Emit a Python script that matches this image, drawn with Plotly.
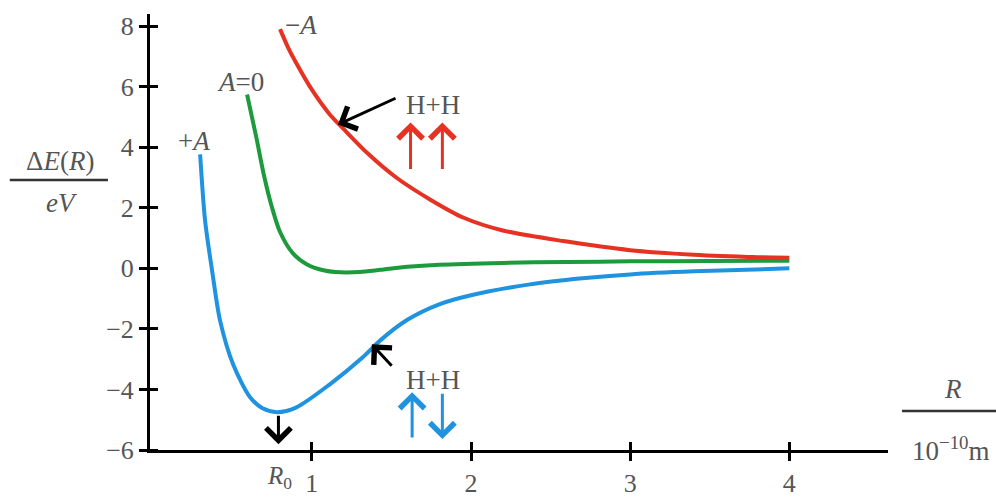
import plotly.graph_objects as go

# ---- data ----
blue_x = [0.298, 0.329, 0.373, 0.423, 0.505, 0.612, 0.69, 0.781, 0.90, 1.113, 1.32, 1.43,
          1.60, 1.80, 2.00, 2.37, 2.70, 3.00, 3.40, 4.00]
blue_y = [3.76, 1.58, -0.07, -1.72, -3.17, -4.26, -4.62, -4.75, -4.6, -3.83, -2.94, -2.38,
          -1.70, -1.19, -0.89, -0.53, -0.33, -0.20, -0.10, 0.0]

green_x = [0.593, 0.65, 0.70, 0.75, 0.80, 0.88, 0.97, 1.08, 1.18, 1.30, 1.43, 1.60,
           1.80, 2.20, 2.60, 3.00, 3.50, 4.00]
green_y = [5.74, 4.35, 3.05, 2.0, 1.2, 0.5, 0.13, -0.07, -0.13, -0.12, -0.05, 0.05,
           0.12, 0.18, 0.21, 0.23, 0.24, 0.25]

red_x = [0.80, 0.85, 0.90, 1.00, 1.11, 1.20, 1.35, 1.53, 1.75, 1.95, 2.20, 2.58, 3.00, 3.40, 3.80, 4.00]
red_y = [7.9, 7.3, 6.8, 5.9, 5.1, 4.6, 3.8, 3.0, 2.25, 1.68, 1.25, 0.9, 0.6, 0.45, 0.37, 0.35]

x_ticks = [1, 2, 3, 4]
x_tick_labels = ["1", "2", "3", "4"]
y_ticks = [-6, -4, -2, 0, 2, 4, 6, 8]
y_tick_labels = ["−6", "−4", "−2", "0", "2", "4", "6", "8"]

curve_labels = ["+<i>A</i>", "<i>A</i>=0", "−<i>A</i>"]
R0 = 0.79

RED = "#e63222"
GREEN = "#1c9a3c"
BLUE = "#1f93e0"
SERIF = "Liberation Serif"
TXT = "#555555"

fig = go.Figure()
for xs, ys, col in [(blue_x, blue_y, BLUE), (green_x, green_y, GREEN), (red_x, red_y, RED)]:
    fig.add_trace(go.Scatter(x=xs, y=ys, mode="lines", line=dict(color=col, width=4, shape="spline", smoothing=0.8),
                             showlegend=False, hoverinfo="skip"))

ann = []
# curve labels (data coords)
ann.append(dict(x=0.26, y=4.22, text=curve_labels[0], xref="x", yref="y"))
ann.append(dict(x=0.55, y=6.14, text=curve_labels[1], xref="x", yref="y"))
ann.append(dict(x=0.93, y=8.05, text=curve_labels[2], xref="x", yref="y"))
# H+H labels
ann.append(dict(x=1.76, y=5.41, text="H+H", xref="x", yref="y"))
ann.append(dict(x=1.76, y=-3.70, text="H+H", xref="x", yref="y"))
# labels outside plot area (paper coords)
ann.append(dict(x=0.176, y=-0.062, text="<i>R</i><sub>0</sub>", xref="paper", yref="paper", size=25))
ann.append(dict(x=-0.122, y=0.662, text="Δ<i>E</i>(<i>R</i>)", xref="paper", yref="paper"))
ann.append(dict(x=-0.119, y=0.567, text="<i>eV</i>", xref="paper", yref="paper"))
ann.append(dict(x=1.088, y=0.140, text="<i>R</i>", xref="paper", yref="paper"))
ann.append(dict(x=1.085, y=0.003, text="10<sup>−10</sup>m", xref="paper", yref="paper"))
for a in ann:
    size = a.pop("size", 27)
    a.update(showarrow=False, xanchor="center", yanchor="middle",
             font=dict(family=SERIF, size=size, color=TXT))

arrows = [
    # black pointer arrows
    dict(x=1.164, y=4.75, ax=1.535, ay=5.64, color="black"),
    dict(x=1.377, y=-2.51, ax=1.51, ay=-3.27, color="black"),
    dict(x=R0, y=-5.81, ax=R0, ay=-4.82, color="black"),
    # spin arrows
    dict(x=1.62, y=4.82, ax=1.62, ay=3.23, color=RED),
    dict(x=1.82, y=4.82, ax=1.82, ay=3.23, color=RED),
    dict(x=1.63, y=-4.09, ax=1.63, ay=-5.64, color=BLUE),
    dict(x=1.82, y=-5.64, ax=1.82, ay=-4.09, color=BLUE),
]
for a in arrows:
    ann.append(dict(x=a["x"], y=a["y"], ax=a["ax"], ay=a["ay"], xref="x", yref="y", axref="x", ayref="y",
                    showarrow=True, arrowhead=4, arrowsize=1.6, arrowwidth=3, arrowcolor=a["color"], text=""))

shapes = [
    dict(type="line", xref="paper", yref="paper", x0=-0.19, x1=-0.057, y0=0.619, y1=0.619,
         line=dict(color="#333333", width=2.5)),
    dict(type="line", xref="paper", yref="paper", x0=1.019, x1=1.15, y0=0.0894, y1=0.0894,
         line=dict(color="#333333", width=2.5)),
]

axis_common = dict(showgrid=False, zeroline=False, showline=True, linecolor="black", linewidth=3,
                   tickmode="array", ticks="outside", ticklen=8, tickwidth=3, tickcolor="black",
                   tickfont=dict(family=SERIF, size=26, color=TXT), fixedrange=True, automargin=False)

fig.update_layout(
    width=996, height=498,
    margin=dict(l=150, r=108, t=14, b=48, autoexpand=False),
    paper_bgcolor="white", plot_bgcolor="white",
    annotations=ann, shapes=shapes,
    xaxis=dict(range=[-0.017, 4.62], tickvals=x_ticks, ticktext=x_tick_labels,
               minor=dict(tickvals=x_ticks, ticks="inside", ticklen=8, tickwidth=3, tickcolor="black", showgrid=False),
               **axis_common),
    yaxis=dict(range=[-6, 8.4], tickvals=y_ticks, ticktext=y_tick_labels,
               minor=dict(tickvals=y_ticks, ticks="inside", ticklen=8, tickwidth=3, tickcolor="black", showgrid=False),
               **axis_common),
)

fig.write_html("out.html", config={"displayModeBar": False},
               post_script="document.body.style.margin='0';")
